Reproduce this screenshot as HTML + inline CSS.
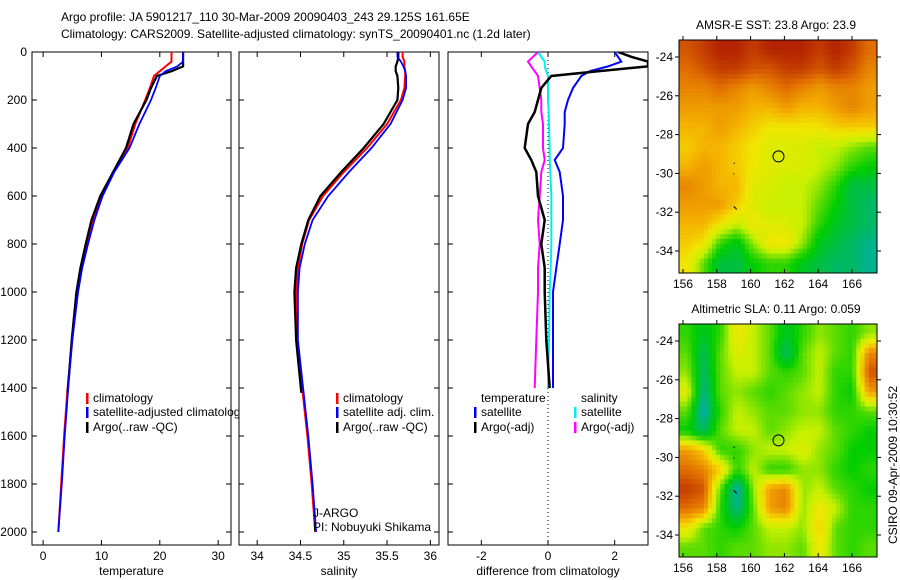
<!DOCTYPE html>
<html><head><meta charset="utf-8"><style>
body{margin:0;background:#fff}
svg{display:block;font-family:"Liberation Sans",sans-serif}
text{font-size:12px;fill:#000}
</style></head><body>
<svg id="fig" width="900" height="580" viewBox="0 0 900 580">
<text x="61" y="21">Argo profile: JA 5901217_110 30-Mar-2009 20090403_243 29.125S 161.65E</text>
<text x="61" y="38">Climatology: CARS2009. Satellite-adjusted climatology: synTS_20090401.nc (1.2d later)</text>
<text x="776" y="29" text-anchor="middle">AMSR-E SST: 23.8 Argo: 23.9</text>
<text x="776" y="313" text-anchor="middle">Altimetric SLA: 0.11 Argo: 0.059</text>
<text transform="translate(897,465) rotate(-90)" text-anchor="middle">CSIRO 09-Apr-2009 10:30:52</text>
</svg>
<script>
const depths=[0,20,40,60,80,100,150,200,300,400,500,600,700,800,900,1000,1200,1400,1600,1800,2000];
const tempClim=[22,22,22,21,20,19,18.3,17.5,15.8,14.5,12,10,8.5,7.5,6.5,5.8,5,4.2,3.6,3.1,2.6];
const tempSat=[24,24,24,23,21,20,19.3,18.5,16.5,14.8,12.2,10.2,8.8,7.7,6.7,6,5,4.3,3.7,3.2,2.6];
const argoDepths=[0,20,40,60,80,100,150,200,300,400,500,600,700,800,900,1000,1200,1420];
const tempArgo=[24,24,24,24,22,19.5,18.5,17.7,15.5,14.2,12,9.8,8.3,7.3,6.4,5.7,4.9,4.2];
const salClim=[35.68,35.68,35.7,35.7,35.71,35.71,35.7,35.66,35.5,35.27,35.0,34.76,34.6,34.52,34.47,34.45,34.46,34.52,34.58,34.63,34.67];
const salSat=[35.62,35.62,35.66,35.69,35.71,35.72,35.72,35.68,35.54,35.32,35.06,34.82,34.64,34.55,34.49,34.47,34.47,34.53,34.59,34.64,34.68];
const salArgo=[35.63,35.63,35.62,35.6,35.6,35.62,35.63,35.62,35.46,35.23,34.97,34.73,34.59,34.51,34.45,34.43,34.45,34.51];
const diffDepths=[0,20,40,60,80,100,150,200,250,300,400,450,500,600,700,800,900,1000,1200,1400];
const diffTempSat=[2.0,2.1,2.2,1.8,1.25,1.0,0.75,0.6,0.5,0.5,0.45,0.2,0.35,0.45,0.45,0.35,0.25,0.15,0.15,0.15];
const diffTempArgo=[2.1,2.5,3.0,3.0,1.5,0.1,-0.2,-0.3,-0.4,-0.6,-0.7,-0.5,-0.35,-0.3,-0.1,-0.2,-0.1,-0.1,-0.05,0.05];
const diffSalSat=[-0.3,-0.2,-0.1,-0.1,-0.05,0,0,0,0.02,0.03,0.05,0.05,0.07,0.1,0.1,0.1,0.08,0.05,0.03,0];
const diffSalArgo=[-0.3,-0.45,-0.6,-0.5,-0.4,-0.3,-0.25,-0.2,-0.2,-0.15,-0.15,-0.1,-0.2,-0.25,-0.3,-0.25,-0.3,-0.3,-0.35,-0.4];
const depthTicks=[0,200,400,600,800,1000,1200,1400,1600,1800,2000];
const tempTicks=[0,10,20,30];
const salTicks=[34,34.5,35,35.5,36];
const diffTicks=[-2,0,2];
const lonTicks=[156,158,160,162,164,166];
const latTicks=[-24,-26,-28,-30,-32,-34];
const sstGrid=[
[.85,.9,.95,.95,.9,.95,.95,.95,.9,.95,.9,.8],
[.8,.85,.9,.9,.85,.85,.9,.9,.85,.9,.85,.75],
[.75,.75,.8,.75,.7,.75,.8,.75,.7,.75,.75,.7],
[.7,.7,.7,.7,.65,.65,.7,.65,.65,.7,.75,.7],
[.65,.65,.7,.65,.6,.55,.55,.55,.55,.6,.6,.6],
[.6,.65,.65,.6,.55,.5,.5,.5,.45,.45,.4,.35],
[.65,.7,.65,.6,.55,.5,.5,.5,.45,.4,.3,.25],
[.75,.7,.65,.65,.5,.5,.45,.45,.4,.3,.15,.15],
[.7,.7,.7,.6,.5,.45,.45,.45,.35,.25,.15,.1],
[.65,.65,.55,.45,.55,.5,.5,.45,.3,.2,.15,.1],
[.6,.55,.3,.2,.4,.55,.55,.4,.2,.15,.1,.05],
[.55,.35,.15,.15,.25,.3,.3,.2,.15,.1,.1,.05]];
const slaGrid=[
[.3,.2,.3,.55,.45,.35,.2,.3,.4,.35,.3,.4],
[.35,.12,.35,.5,.45,.35,.1,.35,.45,.35,.3,.75],
[.4,.1,.35,.45,.45,.35,.3,.35,.45,.3,.3,.85],
[.5,.05,.35,.4,.35,.3,.35,.4,.45,.3,.25,.7],
[.35,.0,.3,.45,.4,.35,.35,.4,.4,.3,.3,.35],
[.25,.1,.35,.45,.45,.35,.4,.45,.45,.35,.3,.25],
[.7,.6,.3,.3,.4,.45,.45,.5,.4,.35,.25,.25],
[.8,.75,.6,.3,.45,.3,.3,.4,.4,.3,.25,.3],
[.9,.85,.35,.0,.4,.7,.75,.4,.45,.35,.3,.25],
[.8,.75,.3,.05,.35,.7,.75,.4,.55,.45,.3,.3],
[.55,.35,.3,.25,.35,.45,.45,.4,.6,.35,.3,.3],
[.35,.35,.3,.35,.35,.4,.4,.35,.55,.35,.3,.35]];

const svg=document.getElementById('fig');
const NS='http://www.w3.org/2000/svg';
function mk(tag,attrs,parent){const e=document.createElementNS(NS,tag);for(const k in attrs)e.setAttribute(k,attrs[k]);(parent||svg).appendChild(e);return e;}
const yD=d=>52+d*0.24;

function panel(name,x0,x1,y1,vmin,vmax,ticks,title,showDepth){
  const sx=v=>x0+(v-vmin)/(vmax-vmin)*(x1-x0);
  const g=mk('g',{});
  
  
  mk('rect',{x:x0,y:52,width:x1-x0,height:y1-52,fill:'#fff',stroke:'#000','stroke-width':1},g);
  ticks.forEach(t=>{const x=sx(t);
    mk('line',{x1:x,x2:x,y1:y1,y2:y1-5,stroke:'#000'},g);
    mk('line',{x1:x,x2:x,y1:52,y2:57,stroke:'#000'},g);
    const tx=mk('text',{x:x,y:y1+15,'text-anchor':'middle'},g);tx.textContent=t;
    
    
  });
  depthTicks.forEach(d=>{if(yD(d)>y1)return;const y=yD(d);
    mk('line',{x1:x0,x2:x0+5,y1:y,y2:y,stroke:'#000'},g);
    mk('line',{x1:x1,x2:x1-5,y1:y,y2:y,stroke:'#000'},g);
    if(showDepth){const tx=mk('text',{x:27,y:y+4,'text-anchor':'end'},g);tx.textContent=d;
      
      }
  });
  const tt=mk('text',{x:(x0+x1)/2,y:575,'text-anchor':'middle'},g);tt.textContent=title;
  
  
  return {sx,g};
}
function line(p,ds,vals,color,w,name,x0,x1){
  const cid='c'+name;
  const cp=mk('clipPath',{id:cid});mk('rect',{x:x0,y:52,width:x1-x0,height:500},cp);
  const pts=ds.map((d,i)=>p.sx(vals[i]).toFixed(1)+','+yD(d).toFixed(1)).join(' ');
  const pl=mk('polyline',{points:pts,fill:'none',stroke:color,'stroke-width':w,'clip-path':'url(#'+cid+')'},p.g);
  
  
}
function legend(g,x,y,color,label){
  if(color)mk('rect',{x:x,y:y-9,width:2.5,height:11,fill:color},g);
  const t=mk('text',{x:x+7,y:y},g);t.textContent=label;
  
  
}

const p1=panel('temperature-panel',32,231,545,-1.9,32.2,tempTicks,'temperature',true);
line(p1,depths,tempClim,'#f00',2,'temp-climatology-line',32,231);
line(p1,argoDepths,tempArgo,'#000',2.2,'temp-argo-line',32,231);
line(p1,depths,tempSat,'#00f',1.8,'temp-satellite-line',32,231);
legend(p1.g,86,402,'#f00','climatology');
legend(p1.g,86,416,'#00f','satellite-adjusted climatology');
legend(p1.g,86,431,'#000','Argo(..raw -QC)');

const p2=panel('salinity-panel',239,439,545,33.79,36.1,salTicks,'salinity',false);
line(p2,depths,salClim,'#f00',2,'sal-climatology-line',239,439);
line(p2,argoDepths,salArgo,'#000',2.2,'sal-argo-line',239,439);
line(p2,depths,salSat,'#00f',1.8,'sal-satellite-line',239,439);
legend(p2.g,336,402,'#f00','climatology');
legend(p2.g,336,416,'#00f','satellite adj. clim.');
legend(p2.g,336,431,'#000','Argo(..raw -QC)');
legend(p2.g,306,517,null,'J-ARGO');
legend(p2.g,306,531,null,'PI: Nobuyuki Shikama');

const p3=panel('difference-panel',448,648,545,-3,3,diffTicks,'difference from climatology',false);
mk('line',{x1:p3.sx(0),x2:p3.sx(0),y1:52,y2:545,stroke:'#000','stroke-dasharray':'1,3'},p3.g);
line(p3,diffDepths,diffSalSat,'#0ee',2,'diff-sal-satellite-line',448,648);
line(p3,diffDepths,diffSalArgo,'#f0f',2,'diff-sal-argo-line',448,648);
line(p3,diffDepths,diffTempSat,'#00f',2,'diff-temp-satellite-line',448,648);
line(p3,diffDepths,diffTempArgo,'#000',2.5,'diff-temp-argo-line',448,648);
legend(p3.g,474,402,null,'temperature');
legend(p3.g,474,416,'#00f','satellite');
legend(p3.g,474,431,'#000','Argo(-adj)');
legend(p3.g,574,402,null,'salinity');
legend(p3.g,574,416,'#0ee','satellite');
legend(p3.g,574,431,'#f0f','Argo(-adj)');

function cmap(v){
  const st=[[0,[0,170,190]],[0.1,[0,185,100]],[0.25,[0,205,0]],[0.35,[90,220,0]],[0.45,[200,240,0]],[0.55,[240,230,0]],[0.65,[245,180,0]],[0.8,[225,110,0]],[1,[165,10,0]]];
  v=Math.max(0,Math.min(1,v));
  for(let i=1;i<st.length;i++){if(v<=st[i][0]){const a=st[i-1],b=st[i],f=(v-a[0])/(b[0]-a[0]);
    return 'rgb('+a[1].map((c,j)=>Math.round(c+(b[1][j]-c)*f)).join(',')+')';}}
  return 'rgb(165,10,0)';
}
function map(name,top,bot,lat24,lat34,grid){
  const x0=679,x1=877;
  const sx=lon=>683+(lon-156)*16.9;
  const sy=lat=>lat24+(-24-lat)*(lat34-lat24)/10;
  const g=mk('g',{});
  
  
  const rows=grid.length,cols=grid[0].length,S=4;
  const NR=rows*S,NC=cols*S,cw=(x1-x0)/NC,ch=(bot-top)/NR;
  const at=(r,c)=>grid[Math.max(0,Math.min(rows-1,r))][Math.max(0,Math.min(cols-1,c))];
  for(let i=0;i<NR;i++)for(let j=0;j<NC;j++){
    const fr=(i+0.5)/S-0.5,fc=(j+0.5)/S-0.5,r0=Math.floor(fr),c0=Math.floor(fc),dr=fr-r0,dc=fc-c0;
    const v=at(r0,c0)*(1-dr)*(1-dc)+at(r0,c0+1)*(1-dr)*dc+at(r0+1,c0)*dr*(1-dc)+at(r0+1,c0+1)*dr*dc;
    const c=mk('rect',{x:(x0+j*cw).toFixed(2),y:(top+i*ch).toFixed(2),width:(cw+0.5).toFixed(2),height:(ch+0.5).toFixed(2),fill:cmap(v)},g);
    
    
  }
  mk('rect',{x:x0,y:top,width:x1-x0,height:bot-top,fill:'none',stroke:'#000'},g);
  lonTicks.forEach(l=>{const x=sx(l);
    mk('line',{x1:x,x2:x,y1:bot,y2:bot-4,stroke:'#000'},g);
    mk('line',{x1:x,x2:x,y1:top,y2:top-4,stroke:'#000'},g);
    const t=mk('text',{x:x,y:bot+15,'text-anchor':'middle'},g);t.textContent=l;
    
    });
  latTicks.forEach(l=>{const y=sy(l);
    mk('line',{x1:x0,x2:x0-4,y1:y,y2:y,stroke:'#000'},g);
    mk('line',{x1:x1,x2:x1+4,y1:y,y2:y,stroke:'#000'},g);
    const t=mk('text',{x:673,y:y+4,'text-anchor':'end'},g);t.textContent=l;
    
    });
  const c=mk('circle',{cx:sx(161.65),cy:sy(-29.125),r:5.5,fill:'none',stroke:'#000'},g);
  
  
  mk('path',{d:`M${sx(159)} ${sy(-29.5)} l1 -1 M${sx(159)} ${sy(-30)} v1 M${sx(159)} ${sy(-31.7)} l3 3`,stroke:'#000',fill:'none'},g);
}
map('sst-map',40,273,57,251,sstGrid);
map('sla-map',324,557,341,535,slaGrid);
</script>
</body></html>
